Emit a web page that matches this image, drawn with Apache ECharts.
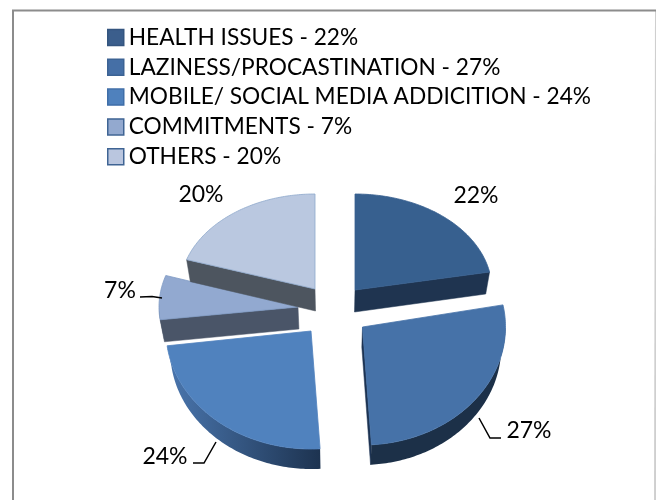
<!DOCTYPE html>
<html>
<head>
<meta charset="utf-8">
<style>html,body{margin:0;padding:0;background:#fff}#main{width:656px;height:500px}</style>
<script src="https://cdn.jsdelivr.net/npm/echarts@6/dist/echarts.min.js"></script>
</head>
<body>
<div id="main"></div>
<script>
// Reasons for missing study time, share of respondents in percent
const categories = ['HEALTH ISSUES', 'LAZINESS/PROCASTINATION', 'MOBILE/ SOCIAL MEDIA ADDICITION', 'COMMITMENTS', 'OTHERS'];
const shares = [22, 27, 24, 7, 20];

// Exploded slices: apex, ellipse radii (nearer slices look larger), wall depth
const sliceCx = [355, 362.5, 311, 298, 315];
const sliceCy = [290, 327, 331, 307, 289];
const sliceRx = [137, 143, 145, 139, 135];
const sliceRy = [96, 118, 118, 102, 95];
const wallDepth = [22, 20, 20, 22, 22];
const paintOrder = [2, 5, 1, 3, 4]; // z per slice, back to front

const topFill = ['#37608f', '#4672a8', '#5082be', '#92a9d0', '#bac8e0'];
const topEdge = ['#37608f', '#4672a8', '#5082be', '#7f9bc4', '#8ea8cb'];
const cutFill = ['#1f3450', '#1c3352', '#1f3450', '#4a5568', '#4d555f'];
const wallStops = [
  ['#1c3048', '#1c3048'], ['#1c3048', '#1c3048'], ['#4a76ae', '#1d3350'],
  ['#4a5568', '#4a5568'], ['#4d555f', '#4d555f']
];
const legendFill = ['#3b5e8c', '#456fa6', '#4f81bd', '#93a9cf', '#bac6df'];
const legendEdge = ['#34557f', '#3c6394', '#3f6ea8', '#3f6494', '#3f6494'];

// Value labels and their leader lines
const labelX = [476, 529, 165, 120, 201];
const labelY = [196, 431, 457, 291, 195];
const leaders = [null, [[479, 418], [490, 438], [501, 438]], [[193, 463], [204, 463], [216, 442]], [[140, 297], [152, 296.5], [162, 298]], null];

const FONT = 'Lato';
const total = shares.reduce((a, b) => a + b, 0);
const PERSPECTIVE_X = 335, PERSPECTIVE_K = 0.975;

function pieSlice(i) {
  const before = shares.slice(0, i).reduce((a, b) => a + b, 0);
  const a0 = before / total * 2 * Math.PI;
  const a1 = (before + shares[i]) / total * 2 * Math.PI;
  const point = (a) => [sliceCx[i] + sliceRx[i] * Math.sin(a), sliceCy[i] - sliceRy[i] * Math.cos(a)];
  const sunk = (p) => [PERSPECTIVE_X + (p[0] - PERSPECTIVE_X) * PERSPECTIVE_K, p[1] + wallDepth[i]];
  const apex = [sliceCx[i], sliceCy[i]];
  const step = Math.PI / 180;
  const arc = (from, to) => {
    const pts = [];
    for (let a = from; a < to; a += step) pts.push(point(a));
    pts.push(point(to));
    return pts;
  };
  const children = [];
  const cutFace = (a) => {
    const p = point(a);
    children.push({ type: 'polygon', shape: { points: [apex, p, sunk(p), sunk(apex)] },
      style: { fill: cutFill[i], stroke: cutFill[i], lineWidth: 0.5 } });
  };
  if (Math.sin(a0) < -1e-6) cutFace(a0);
  if (Math.sin(a1) > 1e-6) cutFace(a1);

  // outer wall only shows along the near half of the ellipse
  const w0 = Math.max(a0, Math.PI / 2), w1 = Math.min(a1, 3 * Math.PI / 2);
  if (w1 > w0) {
    const rim = arc(w0, w1);
    const poly = rim.concat(rim.map(sunk).reverse());
    const xs = poly.map(p => p[0]);
    const left = Math.min(...xs), right = Math.max(...xs);
    children.push({ type: 'polygon', shape: { points: poly },
      style: { fill: new echarts.graphic.LinearGradient(right, 0, left, 0, [
        { offset: 0, color: wallStops[i][1] }, { offset: 1, color: wallStops[i][0] }], true) } });
  }
  children.push({ type: 'polygon', shape: { points: [apex].concat(arc(a0, a1)) },
    style: { fill: topFill[i], stroke: topEdge[i], lineWidth: 0.8 } });
  if (leaders[i]) {
    children.push({ type: 'polyline', shape: { points: leaders[i] },
      style: { fill: 'none', stroke: '#000', lineWidth: 1.5 } });
  }
  children.push({ type: 'text', style: { text: shares[i] + '%', x: labelX[i], y: labelY[i],
    align: 'center', verticalAlign: 'middle', font: '400 23px ' + FONT, fill: '#000' } });
  return { type: 'group', children };
}

const legendNames = categories.map((c, i) => c + ' - ' + shares[i] + '%');

const chart = echarts.init(document.getElementById('main'), null, { renderer: 'canvas' });
chart.setOption({
  animation: false,
  backgroundColor: '#fff',
  graphic: [
    { type: 'line', z: -1, silent: true, shape: { x1: 656, y1: 10.5, x2: 655, y2: 520 },
      style: { stroke: '#cfcfcf', lineWidth: 2 } },
    { type: 'polyline', z: -1, silent: true, shape: { points: [[13, 510], [13, 10.5], [656, 10.5]] },
      style: { fill: 'none', stroke: '#8c8c8c', lineWidth: 2 } }
  ],
  legend: {
    orient: 'vertical', left: 102, top: 21, itemWidth: 16, itemHeight: 16, itemGap: 6.8, icon: 'rect',
    selectedMode: false,
    textStyle: { fontFamily: FONT, fontSize: 22.7, color: '#000', padding: [0, 0, 0, 0] },
    data: legendNames.map((name, i) => ({
      name, itemStyle: { color: legendFill[i], borderColor: legendEdge[i], borderWidth: 1.5 }
    }))
  },
  series: categories.map((c, i) => ({
    type: 'custom', name: legendNames[i], coordinateSystem: 'none', z: paintOrder[i], silent: true,
    itemStyle: { color: legendFill[i] },
    data: [shares[i]],
    renderItem: () => pieSlice(i)
  }))
});
</script>
</body>
</html>
